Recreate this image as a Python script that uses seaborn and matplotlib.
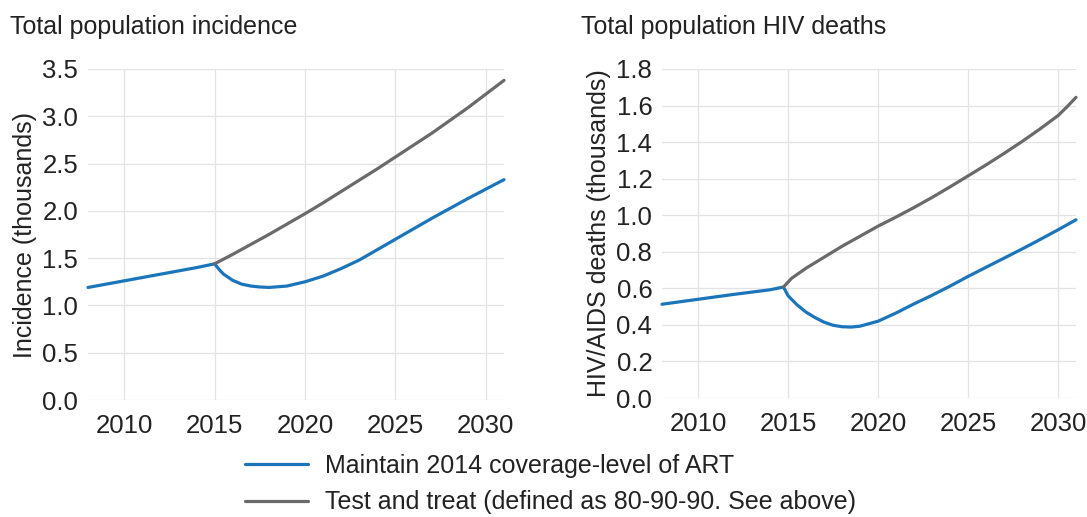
import matplotlib
matplotlib.use("Agg")
import matplotlib.pyplot as plt
import pandas as pd
import seaborn as sns

# scenario names / colours
scenarios = ["Maintain 2014 coverage-level of ART",
             "Test and treat (defined as 80-90-90. See above)"]
colors = ["#1b75bb", "#6a6a6a"]

# incidence (thousands)
inc_art_years = [2008, 2010, 2012, 2014, 2015, 2015.25, 2015.5, 2016, 2016.5, 2017, 2017.5,
                 2018, 2019, 2020, 2021, 2022, 2023, 2024, 2025, 2026, 2027, 2028, 2029, 2030, 2031]
inc_art = [1.19, 1.26, 1.33, 1.40, 1.44, 1.38, 1.33, 1.265, 1.225, 1.205, 1.195,
           1.19, 1.205, 1.25, 1.31, 1.39, 1.48, 1.59, 1.70, 1.81, 1.92, 2.025, 2.13, 2.23, 2.33]
inc_tt_years = [2015, 2016, 2017, 2018, 2019, 2020, 2021, 2022, 2023, 2024, 2025,
                2026, 2027, 2028, 2029, 2030, 2031]
inc_tt = [1.44, 1.54, 1.645, 1.75, 1.86, 1.97, 2.085, 2.205, 2.325, 2.445, 2.57,
          2.695, 2.82, 2.955, 3.09, 3.235, 3.38]

# HIV/AIDS deaths (thousands)
death_art_years = [2008, 2010, 2012, 2014, 2014.75, 2015, 2015.5, 2016, 2016.5, 2017, 2017.5,
                   2018, 2018.5, 2019, 2020, 2021, 2022, 2023, 2024, 2025, 2026, 2027, 2028,
                   2029, 2030, 2031]
death_art = [0.513, 0.54, 0.567, 0.592, 0.607, 0.56, 0.51, 0.47, 0.44, 0.415, 0.398,
             0.39, 0.388, 0.393, 0.42, 0.465, 0.515, 0.562, 0.612, 0.665, 0.715, 0.765, 0.815,
             0.867, 0.92, 0.975]
death_tt_years = [2014.75, 2015.2, 2016, 2017, 2018, 2019, 2020, 2021, 2022, 2023, 2024,
                  2025, 2026, 2027, 2028, 2029, 2030, 2030.5, 2031]
death_tt = [0.607, 0.655, 0.71, 0.77, 0.83, 0.885, 0.94, 0.99, 1.042, 1.097, 1.155,
            1.215, 1.275, 1.338, 1.403, 1.472, 1.545, 1.593, 1.645]

x_ticks = [2010, 2015, 2020, 2025, 2030]


def make_frame(yrs_a, vals_a, yrs_b, vals_b):
    a = pd.DataFrame({"year": yrs_a, "value": vals_a, "scenario": scenarios[0]})
    b = pd.DataFrame({"year": yrs_b, "value": vals_b, "scenario": scenarios[1]})
    return pd.concat([a, b], ignore_index=True)


inc_df = make_frame(inc_art_years, inc_art, inc_tt_years, inc_tt)
death_df = make_frame(death_art_years, death_art, death_tt_years, death_tt)

sns.set_theme(style="whitegrid")
plt.rcParams["font.family"] = ["Liberation Sans", "DejaVu Sans"]

FS = 18
W, H = 1087, 517
fig = plt.figure(figsize=(W / 100, H / 100), dpi=100)
ax1 = fig.add_axes([88 / W, 1 - 400 / H, 416 / W, 331 / H])
ax2 = fig.add_axes([662 / W, 1 - 398 / H, 414 / W, 329 / H])

panels = [
    (ax1, inc_df, 3.5, [0, 0.5, 1.0, 1.5, 2.0, 2.5, 3.0, 3.5], "Incidence (thousands)"),
    (ax2, death_df, 1.8, [0, 0.2, 0.4, 0.6, 0.8, 1.0, 1.2, 1.4, 1.6, 1.8],
     "HIV/AIDS deaths (thousands)"),
]

for ax, df, ymax, yticks, ylab in panels:
    sns.lineplot(data=df, x="year", y="value", hue="scenario", hue_order=scenarios,
                 palette=colors, estimator=None, linewidth=2.3, ax=ax, legend=True)
    ax.set_xlim(2008, 2031)
    ax.set_ylim(0, ymax)
    ax.set_xticks(x_ticks)
    ax.set_yticks(yticks)
    ax.set_yticklabels([f"{v:.1f}" for v in yticks])
    ax.set_xlabel("")
    ax.set_ylabel(ylab, fontsize=FS, color="#222222", labelpad=4)
    for s in ax.spines.values():
        s.set_visible(False)
    ax.grid(True, color="#e3e3e3", linewidth=0.9)
    ax.tick_params(axis="both", length=0, labelsize=18.5, colors="#222222")
    ax.tick_params(axis="x", pad=10)
    ax.tick_params(axis="y", pad=7)
    for line in ax.get_lines():
        line.set_clip_on(False)

handles, labels = ax1.get_legend_handles_labels()
ax1.get_legend().remove()
ax2.get_legend().remove()

fig.text(10 / W, 1 - 27 / H, "Total population incidence", fontsize=FS,
         va="center", ha="left", color="#222222")
fig.text(581 / W, 1 - 27 / H, "Total population HIV deaths", fontsize=FS,
         va="center", ha="left", color="#222222")

fig.legend(handles, labels, loc="upper left", bbox_to_anchor=(245 / W, 1 - 454 / H),
           frameon=False, fontsize=FS, handlelength=2.5, handletextpad=0.7,
           labelspacing=0.5, borderaxespad=0, borderpad=0, labelcolor="#222222")

fig.savefig("out.png", dpi=100)
